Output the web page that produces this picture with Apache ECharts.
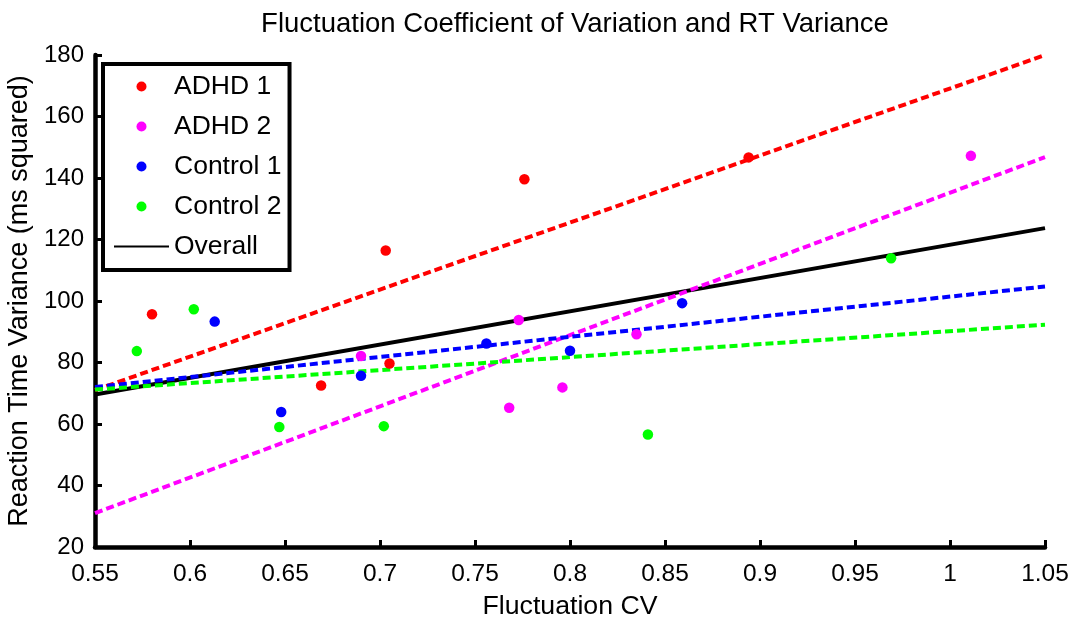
<!DOCTYPE html>
<html>
<head>
<meta charset="utf-8">
<script src="https://cdn.jsdelivr.net/npm/echarts@6/dist/echarts.min.js"></script>
<style>
html,body{margin:0;padding:0;background:#fff;}
#chart{width:1075px;height:621px;}
</style>
</head>
<body>
<div id="chart"></div>
<script>
// ---- data ----
const adhd1X = [0.580, 0.669, 0.703, 0.705, 0.776, 0.894];
const adhd1Y = [95.7, 72.5, 116.4, 79.7, 139.6, 146.7];
const adhd2X = [0.690, 0.773, 0.768, 0.796, 0.835, 1.011];
const adhd2Y = [82.1, 93.8, 65.3, 71.9, 89.2, 147.2];
const control1X = [0.613, 0.648, 0.690, 0.756, 0.800, 0.859];
const control1Y = [93.3, 63.9, 75.7, 86.2, 83.8, 99.3];
const control2X = [0.572, 0.602, 0.647, 0.702, 0.841, 0.969];
const control2Y = [83.7, 97.3, 59.0, 59.3, 56.6, 113.9];

const fitX = [0.55, 1.05];
const adhd1Fit = [71.0, 180.0];
const adhd2Fit = [31.0, 146.8];
const control1Fit = [72.0, 104.7];
const control2Fit = [71.2, 92.3];
const overallFit = [69.6, 123.7];

const legendNames = ['ADHD 1', 'ADHD 2', 'Control 1', 'Control 2', 'Overall'];
const colors = ['#ff0000', '#ff00ff', '#0000ff', '#00ff00', '#000000'];

const titleText = 'Fluctuation Coefficient of Variation and RT Variance';
const xName = 'Fluctuation CV';
const yName = 'Reaction Time Variance (ms squared)';

function pairs(xs, ys) { return xs.map((x, i) => [x, ys[i]]); }

const FONT = '"Liberation Sans", Arial, sans-serif';

function scatter(name, xs, ys, color) {
  return {
    name: name, type: 'scatter', data: pairs(xs, ys),
    symbol: 'circle', symbolSize: 10.5,
    itemStyle: { color: color, opacity: 1 }, z: 5
  };
}
function fit(name, ys, color, dashed) {
  return {
    name: name, type: 'line', data: pairs(fitX, ys),
    symbol: 'none', showSymbol: false,
    lineStyle: { color: color, width: 4, type: dashed ? [8, 4] : 'solid' },
    itemStyle: { color: color },
    z: 3, silent: true
  };
}

const legendData = legendNames.map((n, i) =>
  i === 4 ? { name: n, itemStyle: { opacity: 0 } } : { name: n });

const chart = echarts.init(document.getElementById('chart'), null, { renderer: 'canvas' });
chart.setOption({
  animation: false,
  backgroundColor: '#ffffff',
  title: {
    text: titleText, left: 570, textAlign: 'center', top: 5,
    textStyle: { fontFamily: FONT, fontSize: 27.5, fontWeight: 'normal', color: '#000' }
  },
  grid: { left: 95, right: 30, top: 55, bottom: 74, containLabel: false, outerBoundsMode: 'none' },
  legend: {
    data: legendData,
    orient: 'vertical', left: 103, top: 64,
    padding: [9, 8, 10, 10],
    itemWidth: 55, itemHeight: 10, itemGap: 13,
    borderColor: '#000', borderWidth: 4, backgroundColor: '#fff',
    textStyle: { fontFamily: FONT, fontSize: 26.5, color: '#000', lineHeight: 26 },
    selectedMode: false
  },
  xAxis: {
    type: 'value', min: 0.55, max: 1.05, interval: 0.05,
    name: xName, nameLocation: 'middle', nameGap: 46,
    nameTextStyle: { fontFamily: FONT, fontSize: 26.7, color: '#000' },
    axisLine: { show: true, onZero: false, lineStyle: { color: '#000', width: 4.5 } },
    axisTick: { show: true, inside: true, length: 7, lineStyle: { color: '#000', width: 3 } },
    axisLabel: { fontFamily: FONT, fontSize: 24.5, color: '#000', margin: 15 },
    splitLine: { show: false }
  },
  yAxis: {
    type: 'value', min: 20, max: 180, interval: 20,
    name: yName, nameLocation: 'middle', nameGap: 57,
    nameTextStyle: { fontFamily: FONT, fontSize: 27, color: '#000' },
    axisLine: { show: true, onZero: false, lineStyle: { color: '#000', width: 4.5 } },
    axisTick: { show: true, inside: true, length: 7, lineStyle: { color: '#000', width: 3 } },
    axisLabel: { fontFamily: FONT, fontSize: 24, color: '#000', margin: 11 },
    splitLine: { show: false }
  },
  series: [
    scatter(legendNames[0], adhd1X, adhd1Y, colors[0]),
    scatter(legendNames[1], adhd2X, adhd2Y, colors[1]),
    scatter(legendNames[2], control1X, control1Y, colors[2]),
    scatter(legendNames[3], control2X, control2Y, colors[3]),
    fit(legendNames[4], overallFit, colors[4], false),
    fit('ADHD 1 fit', adhd1Fit, colors[0], true),
    fit('ADHD 2 fit', adhd2Fit, colors[1], true),
    fit('Control 1 fit', control1Fit, colors[2], true),
    fit('Control 2 fit', control2Fit, colors[3], true)
  ]
});
</script>
</body>
</html>
